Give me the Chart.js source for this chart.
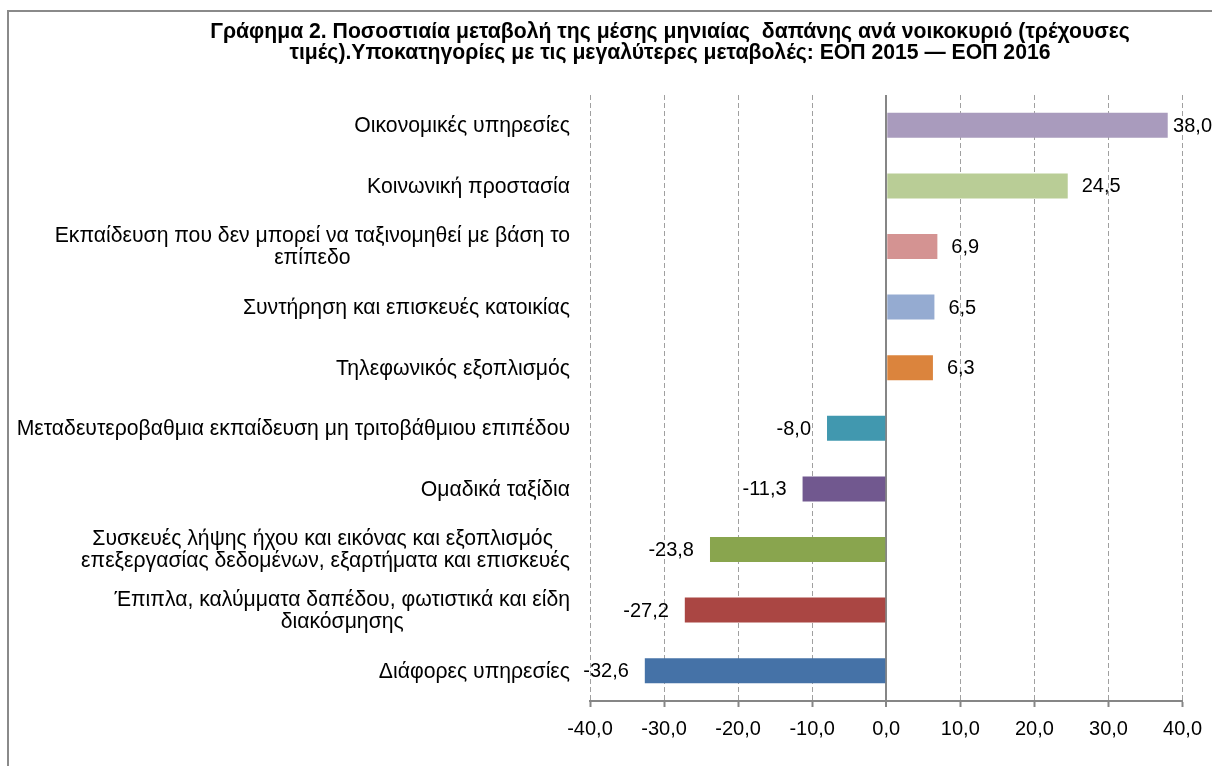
<!DOCTYPE html>
<html><head><meta charset="utf-8">
<script src="https://cdn.jsdelivr.net/npm/chart.js@4"></script>
<style>
html,body{margin:0;padding:0;background:#fff;}
#wrap{position:relative;width:1212px;height:766px;overflow:hidden;}
#frame{position:absolute;left:7px;top:10px;width:1300px;height:900px;border-left:2px solid #8a8a8a;border-top:2px solid #8a8a8a;}
canvas{position:absolute;left:0;top:0;}
</style></head>
<body><div id="wrap"><div id="frame"></div><canvas id="c" width="1212" height="766"></canvas></div>
<script>
const titleLines = [
  "Γράφημα 2. Ποσοστιαία μεταβολή της μέσης μηνιαίας  δαπάνης ανά νοικοκυριό (τρέχουσες",
  "τιμές).Υποκατηγορίες με τις μεγαλύτερες μεταβολές: ΕΟΠ 2015 — ΕΟΠ 2016"
];
const categories = [
  ["Οικονομικές υπηρεσίες"],
  ["Κοινωνική προστασία"],
  ["Εκπαίδευση που δεν μπορεί να ταξινομηθεί με βάση το", "επίπεδο"],
  ["Συντήρηση και επισκευές κατοικίας"],
  ["Τηλεφωνικός εξοπλισμός"],
  ["Μεταδευτεροβαθμια εκπαίδευση μη τριτοβάθμιου επιπέδου"],
  ["Ομαδικά ταξίδια"],
  ["Συσκευές λήψης ήχου και εικόνας και εξοπλισμός ", "επεξεργασίας δεδομένων, εξαρτήματα και επισκευές"],
  ["Έπιπλα, καλύμματα δαπέδου, φωτιστικά και είδη", "διακόσμησης"],
  ["Διάφορες υπηρεσίες"]
];
const values = [38.0, 24.5, 6.9, 6.5, 6.3, -8.0, -11.3, -23.8, -27.2, -32.6];
const barColors = ["#A99BBD", "#B9CD96", "#D49392", "#95ABD1", "#DB843D", "#4198AF", "#71588F", "#89A54E", "#AA4643", "#4572A7"];
const xMin = -40, xMax = 40, xStep = 10;

const FONT = '"Liberation Sans", Arial, sans-serif';
const fmt = v => Number(v).toFixed(1).replace('.', ',');

const annot = {
  id: 'annot',
  afterDatasetsDraw(chart) {
    const ctx = chart.ctx, ys = chart.scales.y, xs = chart.scales.x;
    ctx.save();
    ctx.fillStyle = '#000';
    ctx.textBaseline = 'middle';
    // category labels
    ctx.font = '21.2px ' + FONT;
    const right = xs.left - 20;
    categories.forEach((lines, i) => {
      const cy = ys.getPixelForValue(i);
      const w = Math.max(...lines.map(l => ctx.measureText(l).width));
      const cx = right - w / 2;
      ctx.textAlign = 'center';
      lines.forEach((l, k) => ctx.fillText(l, cx, cy + 1 + (k - (lines.length - 1) / 2) * 22));
    });
    // value labels
    ctx.font = '20px ' + FONT;
    const meta = chart.getDatasetMeta(0);
    meta.data.forEach((bar, i) => {
      const v = values[i], t = fmt(v), tw = ctx.measureText(t).width;
      if (v >= 0) {
        ctx.textAlign = 'left';
        ctx.fillText(t, Math.min(bar.x + 14, chart.width - tw), bar.y + 1);
      } else {
        ctx.textAlign = 'right';
        ctx.fillText(t, bar.x - 16, bar.y + 1);
      }
    });
    // title
    ctx.font = 'bold 21.2px ' + FONT;
    ctx.textAlign = 'center';
    titleLines.forEach((l, k) => ctx.fillText(l, 670, 32 + k * 21));
    ctx.restore();
  }
};

new Chart(document.getElementById('c'), {
  type: 'bar',
  data: {
    labels: categories,
    datasets: [{
      data: values,
      backgroundColor: barColors,
      borderWidth: 0,
      barPercentage: 0.413,
      categoryPercentage: 1
    }]
  },
  options: {
    indexAxis: 'y',
    responsive: false,
    animation: false,
    layout: { padding: { left: 590, right: 27, top: 95, bottom: 0 } },
    plugins: { legend: { display: false }, title: { display: false }, tooltip: { enabled: false } },
    scales: {
      y: { display: false, grid: { display: false } },
      x: {
        min: xMin, max: xMax,
        ticks: {
          stepSize: xStep, callback: v => fmt(v), color: '#000',
          font: { size: 20, family: FONT }, padding: 10, maxRotation: 0, autoSkip: false
        },
        grid: {
          color: c => (c.tick && c.tick.value === 0) ? '#868686' : '#a0a0a0',
          lineWidth: c => (c.tick && c.tick.value === 0) ? 2 : 1,
          drawTicks: true, tickLength: 6, tickColor: '#868686', tickWidth: 2, tickBorderDash: []
        },
        border: {
          display: true, color: '#868686', width: 2,
          dash: c => (c.tick && c.tick.value === 0) ? [] : [5, 3]
        },
        afterFit(s) { s.height = 65; }
      }
    }
  },
  plugins: [annot]
});
</script>
</body></html>
